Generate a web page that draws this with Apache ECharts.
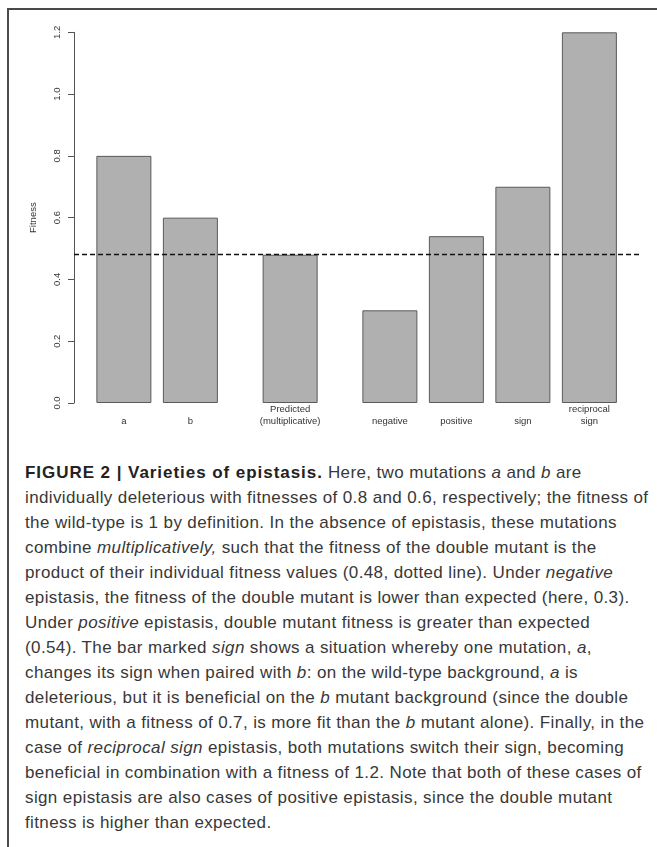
<!DOCTYPE html>
<html>
<head>
<meta charset="utf-8">
<script src="https://cdn.jsdelivr.net/npm/echarts@6/dist/echarts.min.js"></script>
<style>
  html, body { margin: 0; padding: 0; background: #fff; width: 657px; height: 847px; overflow: hidden; }
  #frame { position: absolute; left: 7px; top: 8px; width: 700px; height: 900px;
           border-top: 2px solid #4a4a4a; border-left: 2px solid #4a4a4a; }
  #chart { position: absolute; left: 0; top: 0; width: 657px; height: 440px; }
  #caption { position: absolute; left: 25px; top: 460px; font-family: "Liberation Sans", Arial, sans-serif;
             font-size: 17px; letter-spacing: 0.38px; line-height: 25px; color: #383838; white-space: nowrap; }
  #caption b { color: #222; letter-spacing: 0.95px; }
</style>
</head>
<body>
<div id="frame"></div>
<div id="chart"></div>
<div id="caption"></div>
<script>
// ---- data ----
const categories = ['a', 'b', 'Predicted\n(multiplicative)', 'negative', 'positive', 'sign', 'reciprocal\nsign'];
const fitness = [0.8, 0.6, 0.48, 0.3, 0.54, 0.7, 1.2];
const predicted = 0.48;
const yTicks = [0, 0.2, 0.4, 0.6, 0.8, 1.0, 1.2];
const groupBreakAfter = ['b', 'Predicted\n(multiplicative)'];

const captionLines = [
  '<b>FIGURE 2 | Varieties of epistasis.</b> Here, two mutations <i>a</i> and <i>b</i> are',
  'individually deleterious with fitnesses of 0.8 and 0.6, respectively; the fitness of',
  'the wild-type is 1 by definition. In the absence of epistasis, these mutations',
  'combine <i>multiplicatively,</i> such that the fitness of the double mutant is the',
  'product of their individual fitness values (0.48, dotted line). Under <i>negative</i>',
  'epistasis, the fitness of the double mutant is lower than expected (here, 0.3).',
  'Under <i>positive</i> epistasis, double mutant fitness is greater than expected',
  '(0.54). The bar marked <i>sign</i> shows a situation whereby one mutation, <i>a</i>,',
  'changes its sign when paired with <i>b</i>: on the wild-type background, <i>a</i> is',
  'deleterious, but it is beneficial on the <i>b</i> mutant background (since the double',
  'mutant, with a fitness of 0.7, is more fit than the <i>b</i> mutant alone). Finally, in the',
  'case of <i>reciprocal sign</i> epistasis, both mutations switch their sign, becoming',
  'beneficial in combination with a fitness of 1.2. Note that both of these cases of',
  'sign epistasis are also cases of positive epistasis, since the double mutant',
  'fitness is higher than expected.'
];

// ---- caption ----
document.getElementById('caption').innerHTML = captionLines.join('<br>');

// ---- build half-step category slots (spacers for layout) ----
const slotCats = [''];
const slotVals = ['-'];
categories.forEach((c, i) => {
  slotCats.push(c); slotVals.push(fitness[i]);
  if (i < categories.length - 1) {
    slotCats.push(''); slotVals.push('-');
    if (groupBreakAfter.includes(c)) { slotCats.push(''); slotVals.push('-'); }
  }
});
slotCats.push(''); slotVals.push('-');

const chart = echarts.init(document.getElementById('chart'), null, { renderer: 'canvas' });
const font = '"Liberation Sans", Arial, sans-serif';
chart.setOption({
  animation: false,
  grid: { left: 74, right: 17.75, top: 32.3, bottom: 37 },
  xAxis: {
    type: 'category',
    data: slotCats,
    axisLine: { show: false },
    axisTick: { show: false },
    axisLabel: { interval: 0, fontSize: 9.5, color: '#333', fontFamily: font,
                 verticalAlign: 'bottom', lineHeight: 12, margin: 24 }
  },
  yAxis: {
    type: 'value',
    min: yTicks[0], max: yTicks[yTicks.length - 1], interval: 0.2,
    name: 'Fitness', nameLocation: 'middle', nameRotate: 90, nameGap: 36,
    nameTextStyle: { fontSize: 9.5, color: '#333', fontFamily: font },
    axisLine: { show: true, lineStyle: { color: '#555', width: 1 } },
    axisTick: { show: true, length: 6, lineStyle: { color: '#555', width: 1 } },
    axisLabel: { rotate: 90, fontSize: 9.5, color: '#333', fontFamily: font, margin: 12,
                 formatter: v => v.toFixed(1) },
    splitLine: { show: false }
  },
  series: [{
    type: 'bar',
    data: slotVals,
    barWidth: 55,
    itemStyle: { color: '#b0b0b0', borderColor: '#5a5a5a', borderWidth: 1 },
    markLine: {
      silent: true, symbol: 'none', label: { show: false },
      lineStyle: { color: '#111', type: [5, 3], width: 1.3 },
      data: [{ yAxis: predicted }]
    }
  }]
});
</script>
</body>
</html>
